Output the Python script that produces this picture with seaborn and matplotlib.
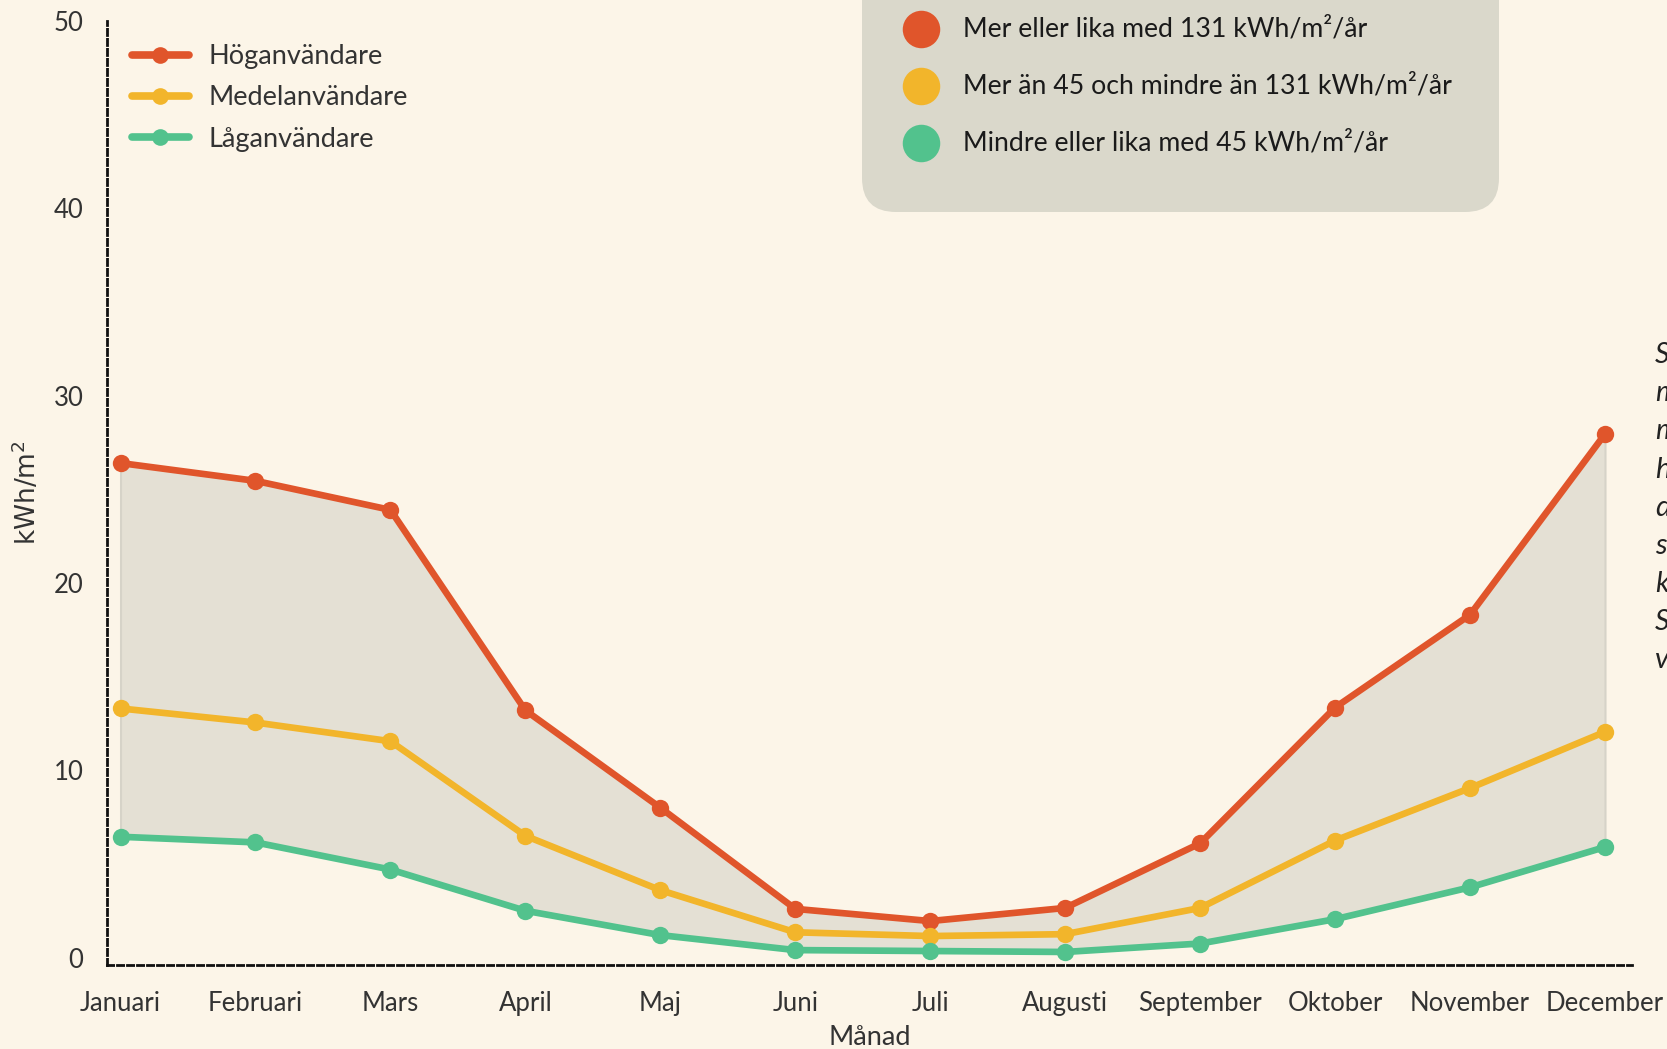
import numpy as np
import pandas as pd
import matplotlib.pyplot as plt
import seaborn as sns
from matplotlib.patches import FancyBboxPatch
from matplotlib.lines import Line2D
from matplotlib.transforms import IdentityTransform

# data (kWh/m2 per month)
months = ['Januari', 'Februari', 'Mars', 'April', 'Maj', 'Juni', 'Juli',
          'Augusti', 'September', 'Oktober', 'November', 'December']
hog = [26.4, 25.45, 23.9, 13.2, 8.0, 2.6, 1.95, 2.65, 6.1, 13.35, 18.3, 27.95]
medel = [13.3, 12.55, 11.55, 6.5, 3.6, 1.35, 1.15, 1.25, 2.65, 6.25, 9.05, 12.05]
lag = [6.45, 6.15, 4.7, 2.5, 1.2, 0.4, 0.35, 0.3, 0.75, 2.05, 3.75, 5.9]
groups = ['Höganvändare', 'Medelanvändare', 'Låganvändare']
colors = ['#e0552b', '#f2b52b', '#52c28d']
box_labels = ['Mer eller lika med 131 kWh/m²/år',
              'Mer än 45 och mindre än 131 kWh/m²/år',
              'Mindre eller lika med 45 kWh/m²/år']
yticks = [0, 10, 20, 30, 40, 50]
side_text = ['Staplarna', 'motsvarar', 'medelvärdet', 'hos', 'de', 'som',
             'konsumerar', 'Sverige', 'värme']

bg = '#fcf5e8'

df = pd.DataFrame({
    'x': list(range(len(months))) * 3,
    'kWh': hog + medel + lag,
    'Grupp': np.repeat(groups, len(months)),
})

sns.set_theme(style='white')
plt.rcParams['font.family'] = ['Lato', 'DejaVu Sans']
plt.rcParams['text.color'] = '#222222'

fig = plt.figure(figsize=(16.67, 10.49), dpi=100, facecolor=bg)
ax = fig.add_axes([0.0642, 0.080, 0.9148, 0.900])
ax.set_facecolor(bg)

# shaded band between low and high users
ax.fill_between(range(len(months)), lag, hog, color='#e4e0d4',
                edgecolor='#d6d3c8', linewidth=1.5, zorder=1)

sns.lineplot(data=df, x='x', y='kWh', hue='Grupp', hue_order=groups,
             palette=colors, marker='o', markersize=12.5, markeredgewidth=0,
             linewidth=4.8, sort=False, ax=ax, zorder=3)

ax.set_xlim(-0.1, 11.2)
ax.set_ylim(-0.4, 50)
ax.set_xticks(range(len(months)))
ax.set_xticklabels(months)
ax.set_yticks(yticks)
ax.tick_params(axis='both', length=0, labelsize=18.5, labelcolor='#333333')
ax.tick_params(axis='x', pad=19)
ax.tick_params(axis='y', pad=17)

for side in ['top', 'right']:
    ax.spines[side].set_visible(False)
for side in ['left', 'bottom']:
    ax.spines[side].set_color('#111111')
    ax.spines[side].set_linewidth(2)
    ax.spines[side].set_linestyle((0, (2.2, 1.4)))

ax.set_xlabel('Månad', fontsize=19.5, color='#333333', labelpad=6)
ax.set_ylabel('kWh/m$^2$', fontsize=19, color='#333333', labelpad=8,
              family='DejaVu Sans')

leg = ax.legend(loc='upper left', bbox_to_anchor=(0.079, 0.958),
                bbox_transform=fig.transFigure, frameon=False, fontsize=19.5,
                handlelength=2.1, handletextpad=0.75, labelspacing=0.6,
                borderpad=0, borderaxespad=0)
for t in leg.get_texts():
    t.set_color('#333333')
for h in leg.legend_handles:
    h.set_linewidth(5.5)
    h.set_markersize(12)

# category box at the top right
box = FancyBboxPatch((862, 1049 - 212), 637, 300,
                     boxstyle='round,pad=0,rounding_size=34',
                     transform=IdentityTransform(), facecolor='#dad8cb',
                     edgecolor='none', zorder=0)
fig.patches.append(box)
for i, (lab, col) in enumerate(zip(box_labels, colors)):
    yy = 1 - (29 + i * 57) / 1049
    fig.add_artist(Line2D([921 / 1667], [yy], transform=fig.transFigure,
                          marker='o', markersize=27, color=col,
                          markeredgewidth=0, linestyle='none'))
    fig.text(963 / 1667, yy, lab, fontsize=19.2, va='center', ha='left',
             color='#1a1a1a')

fig.text(1655 / 1667, 1 - 342 / 1049, '\n'.join(side_text), fontsize=21,
         style='italic', va='top', ha='left', linespacing=1.58,
         color='#222222')

fig.savefig('out.png', dpi=100, facecolor=bg)
